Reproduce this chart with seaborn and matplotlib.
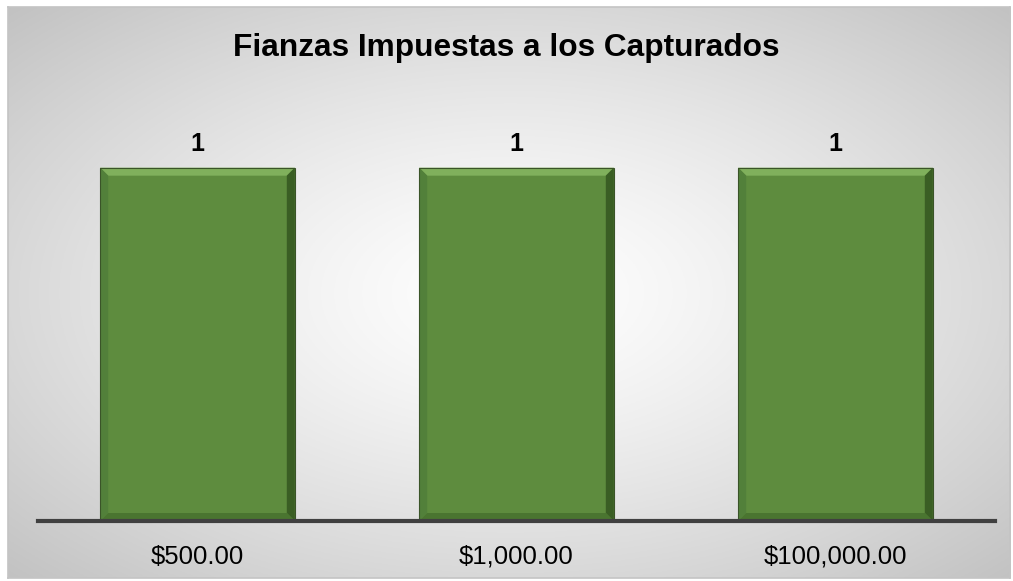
import numpy as np
import pandas as pd
import seaborn as sns
import matplotlib.pyplot as plt
from matplotlib.patches import Polygon, Rectangle

# data
categorias = ['$500.00', '$1,000.00', '$100,000.00']
capturados = [1, 1, 1]

df = pd.DataFrame({'Fianza': categorias, 'Capturados': capturados})

sns.set_theme(style='white')
plt.rcParams['font.family'] = ['Liberation Sans', 'DejaVu Sans']

W, H = 1013, 581
fig = plt.figure(figsize=(W / 100, H / 100), dpi=100)
fig.patch.set_facecolor('white')

# radial gradient background of the chart area
bg = fig.add_axes([8 / W, 3 / H, 1002 / W, 571 / H])
yy, xx = np.mgrid[0:300, 0:520]
cx, cy = 260, 150
r = np.sqrt(((xx - cx) / 260) ** 2 + ((yy - cy) / 150) ** 2) / np.sqrt(2)
shade = 1.0 - 0.24 * np.clip(r, 0, 1) ** 1.3
bg.imshow(np.dstack([shade] * 3), aspect='auto', extent=[0, 1, 0, 1])
bg.set_xlim(0, 1)
bg.set_ylim(0, 1)
bg.set_xticks([])
bg.set_yticks([])
for s in bg.spines.values():
    s.set_color('#c4c4c4')
    s.set_linewidth(1.2)

# plot area
ax = fig.add_axes([38 / W, (H - 521) / H, 957 / W, 424 / H])
ax.patch.set_alpha(0)
sns.barplot(data=df, x='Fianza', y='Capturados', color='#5e8c3e',
            width=0.61, saturation=1, ax=ax, edgecolor='none')
ax.set_ylim(0, 1.2)
ax.set_xlim(-0.5, 2.5)

# bevel edges on each bar
fig.canvas.draw()
inv = ax.transData.inverted()
p0 = inv.transform((0, 0))
p1 = inv.transform((8, 8))
bx, by = p1[0] - p0[0], p1[1] - p0[1]
for bar in ax.patches:
    x0, y0 = bar.get_x(), bar.get_y()
    x1, y1 = x0 + bar.get_width(), y0 + bar.get_height()
    ax.add_patch(Polygon([(x0, y1), (x1, y1), (x1 - bx, y1 - by), (x0 + bx, y1 - by)],
                         color='#80b05c', lw=0))
    ax.add_patch(Polygon([(x0, y0), (x0, y1), (x0 + bx, y1 - by), (x0 + bx, y0 + by)],
                         color='#52803a', lw=0))
    ax.add_patch(Polygon([(x1, y0), (x1, y1), (x1 - bx, y1 - by), (x1 - bx, y0 + by)],
                         color='#3a5e24', lw=0))
    ax.add_patch(Polygon([(x0, y0), (x1, y0), (x1 - bx, y0 + by), (x0 + bx, y0 + by)],
                         color='#4a7530', lw=0))
    ax.add_patch(Rectangle((x0, y0), x1 - x0, y1 - y0, fill=False,
                           ec='#3a5428', lw=0.8))
    ax.text(x0 + (x1 - x0) / 2, y1 + 0.074, f'{int(y1)}', ha='center', va='center_baseline',
            fontsize=18, fontweight='bold', color='black')

for s in ['top', 'right', 'left']:
    ax.spines[s].set_visible(False)
ax.spines['bottom'].set_color('#404040')
ax.spines['bottom'].set_linewidth(3)
ax.set_yticks([])
ax.set_xlabel('')
ax.set_ylabel('')
ax.tick_params(axis='x', length=0, pad=17, labelsize=18.5, labelcolor='black')

fig.text(0.5, (H - 48) / H, 'Fianzas Impuestas a los Capturados', ha='center', va='center',
         fontsize=22.8, fontweight='bold', color='black')

fig.savefig('out.png', dpi=100)
